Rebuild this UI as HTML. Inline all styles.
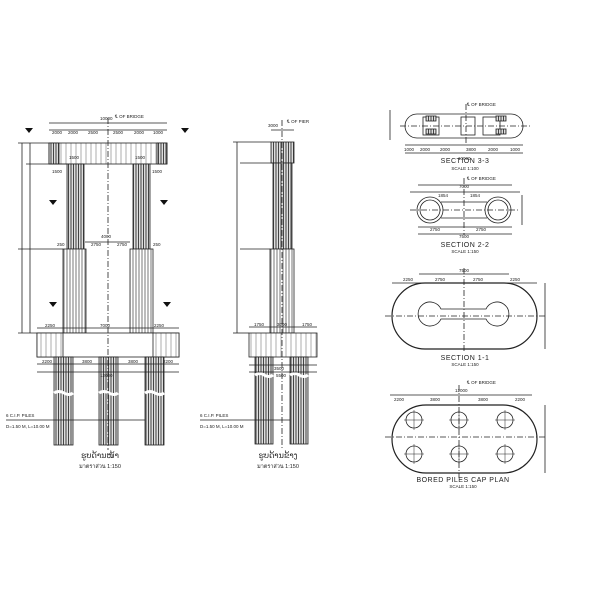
<!DOCTYPE html>
<html><head><meta charset="utf-8">
<style>
html,body{margin:0;padding:0;background:#fff;width:600px;height:600px;overflow:hidden}
svg{display:block}
text{font-family:"Liberation Sans",sans-serif;fill:#222}
</style></head><body>
<svg width="600" height="600" viewBox="0 0 600 600" xmlns="http://www.w3.org/2000/svg">
<defs>
<pattern id="h" width="3" height="10" patternUnits="userSpaceOnUse">
<rect width="3" height="10" fill="#fff"/><line x1="1" y1="0" x2="1" y2="10" stroke="#555" stroke-width="0.8"/>
</pattern>
<pattern id="hd" width="2.5" height="10" patternUnits="userSpaceOnUse">
<rect width="2.5" height="10" fill="#ddd"/><line x1="1" y1="0" x2="1" y2="10" stroke="#333" stroke-width="0.9"/>
</pattern>
<pattern id="hl" width="5" height="10" patternUnits="userSpaceOnUse">
<rect width="5" height="10" fill="#fff"/><line x1="1" y1="0" x2="1" y2="10" stroke="#777" stroke-width="0.6"/>
</pattern>
</defs>
<g fill="none" stroke="#222" stroke-width="0.8">
<rect x="49" y="143" width="118" height="21" fill="url(#hl)"/>
<rect x="49" y="143" width="10" height="21" fill="url(#hd)"/>
<rect x="157" y="143" width="10" height="21" fill="url(#hd)"/>
<rect x="67" y="164" width="17" height="85" fill="url(#hd)"/>
<rect x="133" y="164" width="17" height="85" fill="url(#hd)"/>
<rect x="63" y="249" width="23" height="84" fill="url(#h)"/>
<rect x="130" y="249" width="23" height="84" fill="url(#h)"/>
<rect x="37" y="333" width="142" height="24" fill="#fff"/>
<rect x="37" y="333" width="26" height="24" fill="url(#hl)"/>
<rect x="153" y="333" width="26" height="24" fill="url(#hl)"/>
<rect x="54" y="357" width="19" height="88" fill="url(#hd)"/>
<rect x="99" y="357" width="19" height="88" fill="url(#hd)"/>
<rect x="145" y="357" width="19" height="88" fill="url(#hd)"/>
<path d="M54 393 q5 -3 10 0 q5 3 9 0 M99 393 q5 -3 10 0 q5 3 9 0 M145 393 q5 -3 10 0 q5 3 9 0" stroke="#fff" stroke-width="3"/>
<line x1="108" y1="118" x2="108" y2="450" stroke-dasharray="6 2 1 2"/>
<line x1="49" y1="130" x2="167" y2="130"/><line x1="49" y1="123" x2="167" y2="123"/>
<line x1="22" y1="143" x2="22" y2="333"/><line x1="30" y1="143" x2="30" y2="333"/>
<line x1="18" y1="143" x2="49" y2="143"/><line x1="18" y1="249" x2="63" y2="249"/><line x1="18" y1="333" x2="37" y2="333"/>
<line x1="26" y1="164" x2="67" y2="164"/>
<line x1="37" y1="328" x2="179" y2="328"/><line x1="37" y1="364" x2="179" y2="364"/><line x1="37" y1="372" x2="179" y2="372"/>
<line x1="85" y1="242" x2="130" y2="242"/>
<line x1="6" y1="420" x2="145" y2="420"/>
<rect x="271" y="142" width="23" height="21" fill="url(#hd)"/>
<rect x="273" y="163" width="19" height="86" fill="url(#hd)"/>
<rect x="270" y="249" width="24" height="84" fill="url(#h)"/>
<rect x="249" y="333" width="68" height="24" fill="url(#hl)"/>
<rect x="255" y="357" width="18" height="87" fill="url(#hd)"/>
<rect x="290" y="357" width="18" height="87" fill="url(#hd)"/>
<path d="M255 375 q5 -3 9 0 q5 3 9 0 M290 375 q5 -3 9 0 q5 3 9 0" stroke="#fff" stroke-width="3"/>
<line x1="282" y1="120" x2="282" y2="450" stroke-dasharray="6 2 1 2"/>
<line x1="237" y1="142" x2="237" y2="333"/><line x1="233" y1="142" x2="271" y2="142"/><line x1="233" y1="333" x2="249" y2="333"/>
<line x1="240" y1="163" x2="273" y2="163"/><line x1="240" y1="249" x2="270" y2="249"/>
<line x1="249" y1="327" x2="317" y2="327"/><line x1="249" y1="365" x2="317" y2="365"/><line x1="249" y1="372" x2="317" y2="372"/>
<line x1="271" y1="130" x2="294" y2="130"/>
<line x1="200" y1="420" x2="290" y2="420"/>
<path d="M417 114 H511 A12 12 0 0 1 511 138 H417 A12 12 0 0 1 417 114 Z"/>
<rect x="423" y="117" width="16" height="18"/><rect x="461" y="117" width="14" height="18"/><rect x="483" y="117" width="17" height="18"/>
<rect x="426" y="116" width="10" height="5" fill="url(#hd)"/><rect x="426" y="129" width="10" height="5" fill="url(#hd)"/>
<rect x="496" y="116" width="10" height="5" fill="url(#hd)"/><rect x="496" y="129" width="10" height="5" fill="url(#hd)"/>
<line x1="400" y1="126" x2="530" y2="126" stroke-dasharray="6 2 1 2"/>
<line x1="466" y1="104" x2="466" y2="145" stroke-dasharray="6 2 1 2"/>
<line x1="405" y1="145" x2="523" y2="145"/><line x1="405" y1="153" x2="523" y2="153"/>
<line x1="390" y1="110" x2="390" y2="140"/>
<line x1="418" y1="185" x2="512" y2="185"/><line x1="410" y1="192" x2="520" y2="192"/>
<path d="M441 202 H487 M441 218 H487"/>
<circle cx="430" cy="210" r="13"/><circle cx="430" cy="210" r="10"/>
<circle cx="498" cy="210" r="13"/><circle cx="498" cy="210" r="10"/>
<line x1="410" y1="210" x2="520" y2="210" stroke-dasharray="6 2 1 2"/>
<line x1="464" y1="178" x2="464" y2="235" stroke-dasharray="6 2 1 2"/>
<line x1="418" y1="227" x2="512" y2="227"/><line x1="418" y1="234" x2="512" y2="234"/>
<line x1="522" y1="195" x2="522" y2="225"/>
<path d="M425 283 H504 A33 33 0 0 1 504 349 H425 A33 33 0 0 1 425 283 Z" stroke-width="1.2"/>
<path d="M441 309 H486 A12 12 0 1 1 486 319 H441 A12 12 0 1 1 441 309 Z"/>
<line x1="385" y1="316" x2="545" y2="316" stroke-dasharray="6 2 1 2"/>
<line x1="464" y1="268" x2="464" y2="352" stroke-dasharray="6 2 1 2"/>
<line x1="419" y1="274" x2="509" y2="274"/><line x1="392" y1="283" x2="537" y2="283"/>
<line x1="545" y1="283" x2="545" y2="349"/>
<path d="M426 405 H503 A34 34 0 0 1 503 473 H426 A34 34 0 0 1 426 405 Z" stroke-width="1.2"/>
<g>
<circle cx="414" cy="420" r="8"/><circle cx="459" cy="420" r="8"/><circle cx="505" cy="420" r="8"/>
<circle cx="414" cy="454" r="8"/><circle cx="459" cy="454" r="8"/><circle cx="505" cy="454" r="8"/>
<path d="M404 420h20M414 410v20M449 420h20M459 410v20M495 420h20M505 410v20M404 454h20M414 444v20M449 454h20M459 444v20M495 454h20M505 444v20" stroke-width="0.5"/>
</g>
<line x1="385" y1="437" x2="545" y2="437" stroke-dasharray="6 2 1 2"/>
<line x1="459" y1="385" x2="459" y2="478" stroke-dasharray="6 2 1 2"/>
<line x1="390" y1="395" x2="532" y2="395"/>
<line x1="545" y1="405" x2="545" y2="473"/>
</g>
<g fill="#111">
<polygon points="25,128 33,128 29,133"/><polygon points="181,128 189,128 185,133"/>
<polygon points="49,200 57,200 53,205"/><polygon points="160,200 168,200 164,205"/>
<polygon points="49,302 57,302 53,307"/><polygon points="163,302 171,302 167,307"/>
</g>
<g font-size="4.5">
<text x="100" y="120">10000</text>
<text x="52" y="134">2000</text><text x="68" y="134">2000</text><text x="88" y="134">2500</text><text x="113" y="134">2500</text><text x="134" y="134">2000</text><text x="153" y="134">1000</text>
<text x="69" y="159">1500</text><text x="135" y="159">1500</text>
<text x="52" y="173">1500</text><text x="152" y="173">1500</text>
<text x="101" y="238">4000</text>
<text x="57" y="246">250</text><text x="91" y="246">2750</text><text x="117" y="246">2750</text><text x="153" y="246">250</text>
<text x="45" y="327">2250</text><text x="100" y="327">7000</text><text x="154" y="327">2250</text>
<text x="42" y="363">2200</text><text x="82" y="363">3800</text><text x="128" y="363">3800</text><text x="163" y="363">2200</text>
<text x="100" y="377">12000</text>
<text x="6" y="417">6 C.I.P. PILES</text><text x="6" y="428">D=1.50 M, L=10.00 M</text>
<text x="268" y="127">3000</text><text x="287" y="123">℄ OF PIER</text>
<text x="254" y="326">1750</text><text x="277" y="326">3000</text><text x="302" y="326">1750</text>
<text x="274" y="370">3500</text><text x="276" y="377">5500</text>
<text x="200" y="417">6 C.I.P. PILES</text><text x="200" y="428">D=1.50 M, L=10.00 M</text>
<text x="115" y="118">℄ OF BRIDGE</text>
<text x="467" y="106">℄ OF BRIDGE</text>
<text x="404" y="151">1000</text><text x="420" y="151">2000</text><text x="440" y="151">2000</text><text x="466" y="151">3800</text><text x="488" y="151">2000</text><text x="510" y="151">1000</text>
<text x="458" y="160">10000</text>
<text x="467" y="180">℄ OF BRIDGE</text><text x="459" y="188">7000</text>
<text x="438" y="197">1854</text><text x="470" y="197">1854</text>
<text x="430" y="231">2750</text><text x="476" y="231">2750</text><text x="459" y="238">7500</text>
<text x="459" y="272">7500</text>
<text x="403" y="281">2250</text><text x="435" y="281">2750</text><text x="473" y="281">2750</text><text x="510" y="281">2250</text>
<text x="467" y="384">℄ OF BRIDGE</text><text x="455" y="392">12000</text>
<text x="394" y="401">2200</text><text x="430" y="401">3800</text><text x="478" y="401">3800</text><text x="515" y="401">2200</text>
</g>
<g font-size="7" text-anchor="middle" letter-spacing="0.5">
<text x="465" y="163">SECTION 3-3</text>
<text x="465" y="247">SECTION 2-2</text>
<text x="465" y="360">SECTION 1-1</text>
<text x="463" y="482">BORED PILES CAP PLAN</text>
</g>
<g font-size="4.5" text-anchor="middle">
<text x="465" y="170">SCALE 1:100</text><text x="465" y="253">SCALE 1:150</text>
<text x="465" y="366">SCALE 1:150</text><text x="463" y="488">SCALE 1:150</text>
</g>
<g text-anchor="middle">
<text x="100" y="458" font-size="8" font-family="'Liberation Sans','DejaVu Sans',sans-serif">ຮູບດ້ານໜ້າ</text>
<text x="100" y="468" font-size="5.5">มาตราส่วน 1:150</text>
<text x="278" y="458" font-size="8">ຮູບດ້ານຂ້າງ</text>
<text x="278" y="468" font-size="5.5">มาตราส่วน 1:150</text>
</g>
</svg>
</body></html>
